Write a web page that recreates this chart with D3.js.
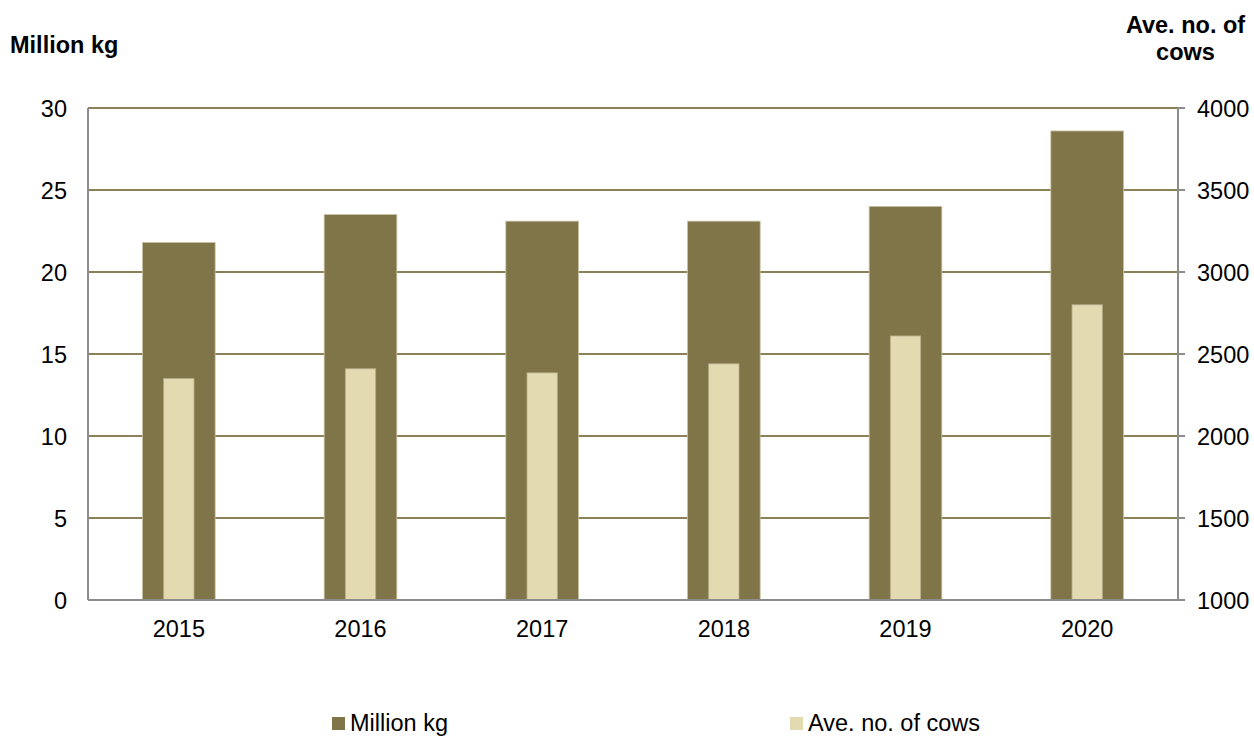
<!DOCTYPE html>
<html>
<head>
<meta charset="utf-8">
<script src="https://cdn.jsdelivr.net/npm/d3@7"></script>
<style>
  body { margin: 0; background: #fff; }
  text { font-family: "Liberation Sans", Arial, sans-serif; fill: #000; }
</style>
</head>
<body>
<svg id="chart" width="1254" height="737"></svg>
<script>
// data
var years = ["2015", "2016", "2017", "2018", "2019", "2020"];
var millionKg = [21.8, 23.5, 23.1, 23.1, 24.0, 28.6];
var aveCows = [2350, 2410, 2385, 2440, 2610, 2800];
var leftTicks = [0, 5, 10, 15, 20, 25, 30];
var rightTicks = [1000, 1500, 2000, 2500, 3000, 3500, 4000];

var svg = d3.select("#chart");
var plot = {left: 88, right: 1178, top: 108, bottom: 600};
var fs = 23.5;

var x = d3.scaleBand().domain(years).range([plot.left, plot.right]);
var yL = d3.scaleLinear().domain([0, 30]).range([plot.bottom, plot.top]);
var yR = d3.scaleLinear().domain([1000, 4000]).range([plot.bottom, plot.top]);

var darkCol = "#807548", lightCol = "#e3dab2";

// gridlines
svg.append("g").selectAll("line").data(leftTicks.slice(1)).enter()
  .append("line")
  .attr("x1", plot.left).attr("x2", plot.right)
  .attr("y1", function(d) { return yL(d); })
  .attr("y2", function(d) { return yL(d); })
  .attr("stroke", "#8b8058").attr("stroke-width", 2);

// dark bars (million kg)
var wDark = x.bandwidth() * 0.4;
svg.append("g").selectAll("rect").data(millionKg).enter()
  .append("rect")
  .attr("x", function(d, i) { return x(years[i]) + x.bandwidth() / 2 - wDark / 2; })
  .attr("y", function(d) { return yL(d); })
  .attr("width", wDark)
  .attr("height", function(d) { return plot.bottom - yL(d); })
  .attr("fill", darkCol)
  .attr("stroke", "#c9c1a2").attr("stroke-width", 0.8);

// light bars (cows, right axis)
var wLight = x.bandwidth() * 0.167;
svg.append("g").selectAll("rect").data(aveCows).enter()
  .append("rect")
  .attr("x", function(d, i) { return x(years[i]) + x.bandwidth() / 2 - wLight / 2; })
  .attr("y", function(d) { return yR(d); })
  .attr("width", wLight)
  .attr("height", function(d) { return plot.bottom - yR(d); })
  .attr("fill", lightCol)
  .attr("stroke", "#b5ad8c").attr("stroke-width", 0.8);

// axes lines
svg.append("line")
  .attr("x1", plot.left).attr("x2", plot.left)
  .attr("y1", plot.top).attr("y2", plot.bottom)
  .attr("stroke", "#8c8c8c").attr("stroke-width", 2);
svg.append("line")
  .attr("x1", plot.left).attr("x2", plot.right)
  .attr("y1", plot.bottom).attr("y2", plot.bottom)
  .attr("stroke", "#8c8c8c").attr("stroke-width", 2);
svg.append("line")
  .attr("x1", plot.right).attr("x2", plot.right)
  .attr("y1", plot.top).attr("y2", plot.bottom)
  .attr("stroke", "#8c8c8c").attr("stroke-width", 2);

// right ticks
svg.append("g").selectAll("line").data(rightTicks).enter()
  .append("line")
  .attr("x1", plot.right).attr("x2", plot.right + 7)
  .attr("y1", function(d) { return yR(d); })
  .attr("y2", function(d) { return yR(d); })
  .attr("stroke", "#8c8c8c").attr("stroke-width", 2);

// tick labels
svg.append("g").selectAll("text").data(leftTicks).enter()
  .append("text")
  .attr("x", 67).attr("y", function(d) { return yL(d) + 8.5; })
  .attr("text-anchor", "end").attr("font-size", fs)
  .text(function(d) { return d; });

svg.append("g").selectAll("text").data(rightTicks).enter()
  .append("text")
  .attr("x", 1197).attr("y", function(d) { return yR(d) + 8.5; })
  .attr("font-size", fs)
  .text(function(d) { return d; });

svg.append("g").selectAll("text").data(years).enter()
  .append("text")
  .attr("x", function(d) { return x(d) + x.bandwidth() / 2; })
  .attr("y", 637)
  .attr("text-anchor", "middle").attr("font-size", fs)
  .text(function(d) { return d; });

// axis titles
svg.append("text").attr("x", 10).attr("y", 53)
  .attr("font-size", fs).attr("font-weight", "bold").text("Million kg");
svg.append("text").attr("x", 1185.5).attr("y", 33)
  .attr("text-anchor", "middle").attr("font-size", fs).attr("font-weight", "bold").text("Ave. no. of");
svg.append("text").attr("x", 1185.5).attr("y", 60)
  .attr("text-anchor", "middle").attr("font-size", fs).attr("font-weight", "bold").text("cows");

// legend (nudged up a little so the descenders stay inside the frame)
var legend = [{name: "Million kg", color: darkCol, x: 332}, {name: "Ave. no. of cows", color: lightCol, x: 790}];
var lg = svg.append("g").selectAll("g").data(legend).enter().append("g");
lg.append("rect")
  .attr("x", function(d) { return d.x; }).attr("y", 717)
  .attr("width", 13).attr("height", 13)
  .attr("fill", function(d) { return d.color; });
lg.append("text")
  .attr("x", function(d) { return d.x + 18; }).attr("y", 731)
  .attr("font-size", fs)
  .text(function(d) { return d.name; });
</script>
</body>
</html>
